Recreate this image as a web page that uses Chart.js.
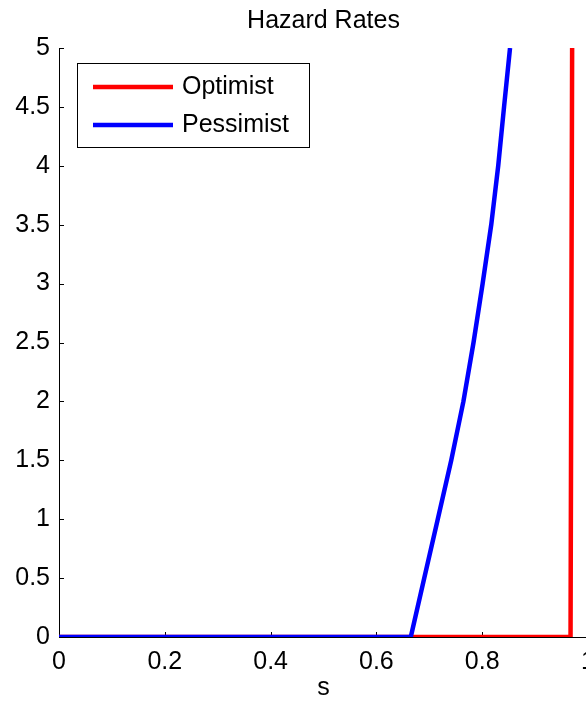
<!DOCTYPE html>
<html>
<head>
<meta charset="utf-8">
<script src="https://cdn.jsdelivr.net/npm/chart.js@4.4.1/dist/chart.umd.min.js"></script>
<style>
  html, body { margin: 0; padding: 0; overflow: hidden; background: #fff; }
  #wrap { width: 640px; height: 704px; }
</style>
</head>
<body>
<div id="wrap"><canvas id="grafico" width="640" height="704"></canvas></div>
<script>
// values
const optimistS = [0, 0.967, 0.970];
const optimistH = [0, 0, 5];
const pessimistS = [0, 0.665, 0.6905, 0.716, 0.7415, 0.7645, 0.7836, 0.8008, 0.8171, 0.8303, 0.8413, 0.8526];
const pessimistH = [0, 0, 0.5, 1, 1.5, 2, 2.5, 3, 3.5, 4, 4.5, 5];

const xTicks = [0, 0.2, 0.4, 0.6, 0.8, 1];
const yTicks = [0, 0.5, 1, 1.5, 2, 2.5, 3, 3.5, 4, 4.5, 5];

const toPoints = (xs, ys) => xs.map((x, i) => ({ x: x, y: ys[i] }));

Chart.defaults.font.family = "'Liberation Sans', Arial, Helvetica, sans-serif";
Chart.defaults.font.size = 25;
Chart.defaults.color = "#000";

// ticks drawn inward, like the original
const innerTicks = {
  id: "innerTicks",
  beforeDatasetsDraw(chart) {
    const ctx = chart.ctx;
    const area = chart.chartArea;
    const x = chart.scales.x;
    const y = chart.scales.y;
    ctx.save();
    ctx.strokeStyle = "#000";
    ctx.lineWidth = 1;
    ctx.beginPath();
    xTicks.forEach((v) => {
      const px = Math.round(x.getPixelForValue(v)) + 0.5;
      ctx.moveTo(px, area.bottom);
      ctx.lineTo(px, area.bottom - 5);
    });
    yTicks.forEach((v) => {
      const py = Math.round(y.getPixelForValue(v)) + 0.5;
      ctx.moveTo(area.left, py);
      ctx.lineTo(area.left + 5, py);
    });
    ctx.stroke();
    ctx.restore();
  },
};

// boxed legend inside the plot, top left
const boxLegend = {
  id: "boxLegend",
  afterDraw(chart) {
    const ctx = chart.ctx;
    const area = chart.chartArea;
    const left = area.left + 18;
    const top = area.top + 15;
    const w = 232;
    const h = 84;
    ctx.save();
    ctx.fillStyle = "#fff";
    ctx.fillRect(left, top, w, h);
    ctx.strokeStyle = "#000";
    ctx.lineWidth = 1;
    ctx.strokeRect(left + 0.5, top + 0.5, w, h);
    ctx.font = "25px 'Liberation Sans', Arial, Helvetica, sans-serif";
    ctx.textBaseline = "middle";
    ctx.textAlign = "left";
    chart.data.datasets.forEach((ds, i) => {
      const ly = top + 24 + i * 38;
      ctx.strokeStyle = ds.borderColor;
      ctx.lineWidth = 4.5;
      ctx.beginPath();
      ctx.moveTo(left + 16, ly);
      ctx.lineTo(left + 96, ly);
      ctx.stroke();
      ctx.fillStyle = "#000";
      ctx.fillText(ds.label, left + 105, ly);
    });
    ctx.restore();
  },
};

new Chart(document.getElementById("grafico"), {
  type: "line",
  data: {
    datasets: [
      {
        label: "Optimist",
        data: toPoints(optimistS, optimistH),
        borderColor: "#ff0000",
        backgroundColor: "#ff0000",
        borderWidth: 4.5,
        pointRadius: 0,
        tension: 0,
        order: 1,
      },
      {
        label: "Pessimist",
        data: toPoints(pessimistS, pessimistH),
        borderColor: "#0000ff",
        backgroundColor: "#0000ff",
        borderWidth: 4.5,
        pointRadius: 0,
        tension: 0,
        order: 0,
      },
    ],
  },
  options: {
    responsive: false,
    animation: false,
    layout: { padding: { left: 0, right: 52, top: 0, bottom: 0 } },
    plugins: {
      legend: { display: false },
      tooltip: { enabled: false },
      title: {
        display: true,
        text: "Hazard Rates",
        fullSize: false,
        color: "#000",
        font: { size: 25, weight: "normal" },
        padding: { top: 6, bottom: 12 },
      },
    },
    scales: {
      x: {
        type: "linear",
        min: 0,
        max: 1,
        ticks: { stepSize: 0.2, padding: 10, callback: (v) => String(v) },
        grid: { display: false, drawTicks: false },
        border: { display: true, color: "#000", width: 1 },
        title: { display: true, text: "s", padding: { top: 0, bottom: 1 } },
        afterFit(scale) {
          scale.height = 67;
        },
      },
      y: {
        type: "linear",
        min: 0,
        max: 5,
        ticks: { stepSize: 0.5, padding: 9, callback: (v) => String(v) },
        grid: { display: false, drawTicks: false },
        border: { display: true, color: "#000", width: 1 },
        afterFit(scale) {
          scale.width = 59;
        },
      },
    },
  },
  plugins: [innerTicks, boxLegend],
});
</script>
</body>
</html>
